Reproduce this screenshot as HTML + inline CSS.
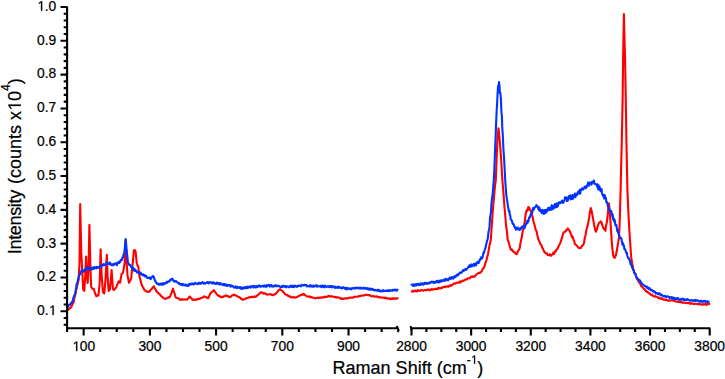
<!DOCTYPE html>
<html><head><meta charset="utf-8"><style>
html,body{margin:0;padding:0;background:#fff;}
svg{display:block;}
text{font-family:"Liberation Sans",sans-serif;fill:#000;stroke:#000;stroke-width:0.22px;}
.h{fill:none;stroke:none;}
.ones path{fill:#000;stroke:#000;stroke-width:0.22px;}
.c path{fill:none;stroke-width:2.1;stroke-linejoin:round;stroke-linecap:butt;}
</style></head><body>
<svg width="725" height="379" viewBox="0 0 725 379">
<rect width="725" height="379" fill="#fff"/>
<g class="c">
<path d="M67.2,310.6 L68.0,309.7 L68.8,309.3 L69.5,308.5 L70.3,308.0 L71.1,307.2 L71.9,305.7 L72.7,303.7 L73.5,302.5 L74.3,298.3 L75.1,295.0 L75.8,292.0 L76.6,288.3 L77.6,284.0 L78.6,280.3 L79.5,263.2 L80.2,204.0 L81.3,254.0 L82.2,269.8 L83.2,289.6 L84.3,290.9 L85.2,276.4 L86.1,256.6 L86.9,276.4 L87.6,283.0 L88.5,269.8 L89.4,224.9 L90.5,269.8 L91.2,287.0 L92.5,288.9 L93.8,288.9 L95.1,293.5 L96.4,296.2 L97.4,295.6 L98.4,295.5 L99.7,283.0 L100.6,249.2 L101.7,276.4 L103.0,292.2 L104.3,293.5 L105.0,285.5 L105.7,276.4 L106.8,254.7 L107.6,276.4 L108.6,290.9 L109.9,289.6 L110.8,279.8 L111.6,270.0 L112.9,288.3 L113.5,290.0 L114.2,289.7 L115.0,288.6 L115.7,288.1 L116.4,287.2 L117.1,284.8 L117.9,283.4 L118.6,281.3 L119.3,282.5 L120.1,282.7 L120.8,278.3 L121.6,273.9 L122.3,273.5 L123.1,272.4 L123.8,268.2 L124.6,263.5 L125.6,240.0 L126.5,260.6 L127.5,275.4 L128.2,278.5 L129.0,282.7 L129.7,281.6 L130.5,279.9 L131.2,278.3 L131.9,270.6 L132.7,263.5 L133.9,250.2 L134.8,250.1 L135.6,251.7 L136.8,263.5 L137.6,265.6 L138.3,266.5 L139.3,275.4 L140.0,278.3 L140.8,281.5 L141.5,284.2 L142.3,286.2 L143.2,287.5 L144.0,289.3 L144.8,290.4 L145.6,290.7 L146.4,291.5 L147.3,291.5 L148.1,292.0 L148.9,291.9 L149.8,291.2 L150.6,289.8 L151.4,289.6 L152.2,288.1 L153.1,287.1 L153.9,286.3 L154.7,288.5 L155.6,289.5 L156.4,291.2 L157.1,292.0 L157.8,292.4 L158.5,293.4 L159.3,293.9 L160.0,294.6 L160.7,295.6 L161.4,296.2 L162.2,296.9 L163.1,297.8 L163.9,298.2 L164.7,298.7 L165.4,298.9 L166.1,298.5 L166.8,298.4 L167.6,297.9 L168.3,297.2 L169.0,297.6 L169.7,297.0 L170.5,295.4 L171.3,293.3 L172.2,290.8 L173.0,288.7 L173.8,291.7 L174.7,293.9 L175.5,297.0 L176.3,297.8 L177.2,298.1 L178.0,298.3 L178.9,298.6 L179.7,299.5 L180.4,299.8 L181.1,299.9 L181.8,299.1 L182.6,299.8 L183.3,299.4 L184.0,299.2 L184.7,299.5 L185.6,299.5 L186.6,299.8 L187.4,299.2 L188.2,298.5 L189.1,296.9 L189.9,296.5 L190.7,297.7 L191.6,298.3 L192.4,299.8 L193.2,299.9 L193.9,299.5 L194.7,299.9 L195.4,299.9 L196.2,299.4 L196.9,299.7 L197.7,299.0 L198.4,298.7 L199.2,299.1 L199.9,298.9 L200.6,298.1 L201.3,297.9 L202.0,297.8 L202.7,297.6 L203.4,296.9 L204.1,296.4 L204.8,296.5 L205.6,297.2 L206.4,297.1 L207.3,298.1 L208.1,298.1 L208.9,296.8 L209.8,294.6 L210.6,293.1 L211.4,292.3 L212.2,291.7 L213.1,291.1 L213.9,290.2 L214.8,291.5 L215.6,292.6 L216.5,293.8 L217.3,294.8 L218.1,295.7 L218.9,295.8 L219.8,296.2 L220.6,297.0 L221.4,297.3 L222.1,296.8 L222.8,296.6 L223.5,297.0 L224.3,296.3 L225.0,296.1 L225.7,295.4 L226.4,295.6 L227.2,295.9 L228.1,296.5 L228.9,296.4 L229.7,297.3 L230.5,296.9 L231.3,296.3 L232.2,295.2 L233.0,295.2 L233.8,294.5 L234.6,294.9 L235.4,295.5 L236.3,295.6 L237.1,296.3 L237.9,296.5 L238.6,297.2 L239.3,297.0 L240.0,297.5 L240.8,298.5 L241.5,299.3 L242.2,299.1 L242.9,299.8 L243.6,299.5 L244.4,299.3 L245.1,298.8 L245.8,298.6 L246.6,298.2 L247.3,298.0 L248.0,297.9 L248.8,297.4 L249.5,297.3 L250.2,297.1 L251.0,297.4 L251.7,296.6 L252.5,297.0 L253.2,297.1 L254.0,296.6 L254.7,296.4 L255.5,296.9 L256.2,296.5 L256.9,295.6 L257.6,295.0 L258.3,294.6 L259.0,294.3 L259.7,293.1 L260.4,292.7 L261.1,292.3 L261.8,292.4 L262.6,293.1 L263.3,293.0 L264.0,293.6 L264.8,293.2 L265.5,293.6 L266.2,294.2 L267.0,294.6 L267.7,294.5 L268.4,294.5 L269.2,294.3 L269.9,294.2 L270.7,294.7 L271.4,294.4 L272.2,295.0 L272.9,295.1 L273.7,294.5 L274.4,294.8 L275.1,293.9 L275.8,293.7 L276.6,292.8 L277.3,292.2 L278.0,291.0 L278.8,290.1 L279.5,289.5 L280.2,289.0 L280.9,290.0 L281.6,290.2 L282.4,291.0 L283.1,291.8 L283.8,292.5 L284.6,293.3 L285.3,294.5 L286.0,294.8 L286.7,294.7 L287.5,294.9 L288.2,296.1 L288.9,296.3 L289.7,296.7 L290.4,296.4 L291.1,297.2 L291.9,297.4 L292.6,297.3 L293.4,297.0 L294.2,297.5 L295.0,297.6 L295.8,297.5 L296.6,297.3 L297.3,297.0 L298.1,296.4 L298.8,296.0 L299.5,295.6 L300.3,295.0 L301.0,295.2 L301.7,294.5 L302.5,294.7 L303.2,294.0 L303.9,293.9 L304.6,295.1 L305.3,295.3 L306.1,295.8 L306.8,296.2 L307.5,296.5 L308.2,296.5 L308.9,296.8 L309.7,296.4 L310.4,297.3 L311.1,296.9 L311.9,297.2 L312.6,297.7 L313.3,297.8 L314.1,297.8 L314.8,298.1 L315.6,298.4 L316.3,298.1 L317.1,297.7 L317.8,297.6 L318.6,298.1 L319.3,297.6 L320.1,297.9 L320.8,297.4 L321.6,297.2 L322.3,297.4 L323.1,297.3 L323.8,297.4 L324.5,296.6 L325.2,297.1 L326.0,297.0 L326.7,296.7 L327.4,296.6 L328.1,296.1 L328.8,295.7 L329.6,296.4 L330.3,296.7 L331.0,296.1 L331.8,296.4 L332.5,296.5 L333.2,296.8 L334.0,296.8 L334.7,297.0 L335.5,297.1 L336.2,297.6 L337.0,297.1 L337.7,297.3 L338.5,297.5 L339.2,297.7 L340.0,297.8 L340.7,298.8 L341.5,298.9 L342.2,298.3 L343.0,298.9 L343.8,298.8 L344.5,298.5 L345.3,298.4 L346.0,298.4 L346.8,298.5 L347.5,298.4 L348.3,298.1 L349.0,297.8 L349.8,297.8 L350.5,297.5 L351.3,297.8 L352.0,297.7 L352.8,297.7 L353.5,297.2 L354.3,296.8 L355.0,296.7 L355.8,296.8 L356.5,296.8 L357.3,296.8 L358.0,296.3 L358.8,296.5 L359.5,296.1 L360.2,296.1 L361.0,295.7 L361.7,295.5 L362.5,295.5 L363.2,295.6 L364.0,295.2 L364.7,295.3 L365.5,294.9 L366.2,294.8 L366.9,294.7 L367.7,295.1 L368.4,295.4 L369.1,295.0 L369.9,295.4 L370.6,295.6 L371.3,296.2 L372.1,296.4 L372.8,296.1 L373.6,296.1 L374.3,296.7 L375.1,296.7 L375.8,296.3 L376.6,296.6 L377.3,296.4 L378.1,297.2 L378.8,297.1 L379.6,297.4 L380.3,297.5 L381.1,297.3 L381.8,297.6 L382.6,297.8 L383.3,297.8 L384.1,297.5 L384.8,298.1 L385.6,297.7 L386.3,298.0 L387.1,298.7 L387.8,298.2 L388.6,298.4 L389.3,298.9 L390.1,298.5 L390.8,299.1 L391.6,298.4 L392.3,298.2 L393.1,298.9 L393.9,298.2 L394.6,298.7 L395.4,298.5 L396.1,298.6 L396.9,298.7 L397.6,298.2 L398.4,298.1" stroke="#ff0000" stroke-width="1.9"/>
<path d="M411.2,291.3 L411.9,291.7 L412.6,290.6 L413.3,291.5 L414.0,291.1 L414.7,291.3 L415.5,290.4 L416.2,291.3 L416.9,291.5 L417.6,290.2 L418.3,290.5 L419.0,290.8 L419.7,291.1 L420.4,290.3 L421.1,290.1 L421.8,290.2 L422.6,290.6 L423.3,290.8 L424.0,290.2 L424.7,290.1 L425.4,290.1 L426.1,290.2 L426.8,289.9 L427.5,289.9 L428.2,289.3 L428.9,289.8 L429.6,290.4 L430.3,289.5 L431.0,289.9 L431.8,288.9 L432.5,289.6 L433.2,289.6 L433.9,289.3 L434.6,289.0 L435.3,288.9 L436.0,289.0 L436.7,288.7 L437.4,289.1 L438.1,287.9 L438.8,287.7 L439.5,288.5 L440.2,288.6 L440.9,287.9 L441.6,287.6 L442.4,287.9 L443.1,287.0 L443.8,287.0 L444.5,286.7 L445.2,287.1 L445.9,286.6 L446.6,286.3 L447.3,286.6 L448.0,286.6 L448.7,286.8 L449.4,285.5 L450.1,285.9 L450.8,285.2 L451.5,285.6 L452.2,285.0 L452.9,284.2 L453.6,283.9 L454.3,283.3 L455.0,283.8 L455.7,283.4 L456.4,282.8 L457.1,282.8 L457.8,282.8 L458.5,282.2 L459.2,282.6 L459.9,281.3 L460.6,282.4 L461.3,281.2 L462.0,281.1 L462.7,280.6 L463.5,280.9 L464.2,280.6 L464.9,279.8 L465.6,279.4 L466.3,279.5 L467.0,279.4 L467.7,278.3 L468.4,278.2 L469.1,278.3 L469.8,278.4 L470.6,277.3 L471.3,276.6 L472.0,276.3 L472.7,276.9 L473.4,276.5 L474.2,276.8 L474.9,276.3 L475.6,275.4 L476.4,274.5 L477.2,273.9 L478.0,273.5 L478.8,272.9 L479.6,273.0 L480.4,272.5 L481.2,271.8 L481.9,271.0 L482.7,268.8 L483.5,268.4 L484.4,266.7 L485.3,263.1 L486.2,261.1 L487.2,257.0 L488.2,253.2 L489.5,245.3 L490.8,240.0 L491.6,228.2 L492.5,215.0 L493.4,203.5 L494.2,195.0 L495.0,185.9 L495.8,180.0 L496.7,157.0 L497.4,140.0 L498.5,128.2 L499.7,140.0 L501.0,157.0 L502.4,180.0 L503.6,195.0 L504.4,206.2 L505.2,215.0 L506.0,225.0 L506.9,231.7 L507.7,239.6 L508.6,241.8 L509.4,245.0 L510.2,247.8 L511.1,249.9 L511.8,249.3 L512.6,250.7 L513.3,251.6 L514.1,252.3 L514.8,252.3 L515.6,253.8 L516.3,254.2 L517.1,253.8 L518.0,250.9 L518.9,249.8 L519.7,248.2 L520.4,243.4 L521.1,240.0 L521.8,237.3 L522.5,232.0 L523.2,229.3 L524.0,225.4 L524.9,220.4 L525.7,213.9 L526.6,210.2 L527.4,210.8 L528.3,207.0 L529.2,207.7 L530.0,210.2 L530.9,210.4 L531.8,214.7 L532.6,216.6 L533.4,221.3 L534.3,224.2 L535.1,227.3 L535.9,230.4 L536.7,231.4 L537.4,235.5 L538.2,238.7 L539.0,240.5 L539.8,242.7 L540.6,244.4 L541.4,245.0 L542.2,247.6 L543.0,248.9 L543.8,250.9 L544.6,252.2 L545.4,252.9 L546.1,253.5 L546.9,253.4 L547.7,254.9 L548.5,255.2 L549.3,255.2 L550.1,254.2 L550.9,255.8 L551.7,254.9 L552.5,254.6 L553.3,252.7 L554.1,253.9 L554.9,251.4 L555.7,251.6 L556.5,249.7 L557.3,249.2 L558.0,247.5 L558.8,245.9 L559.6,244.3 L560.4,242.6 L561.2,240.1 L562.0,237.6 L562.7,235.1 L563.5,232.7 L564.3,231.9 L565.0,231.8 L565.7,231.2 L566.4,229.9 L567.1,229.8 L567.8,228.4 L568.6,229.5 L569.5,230.8 L570.4,232.6 L571.2,234.5 L571.9,237.2 L572.6,236.6 L573.4,239.6 L574.1,240.6 L574.8,243.7 L575.5,244.7 L576.4,245.2 L577.2,246.0 L578.0,247.1 L578.9,248.2 L579.8,247.9 L580.7,248.0 L581.6,246.9 L582.4,245.2 L583.2,245.2 L584.0,243.0 L584.7,238.5 L585.4,235.5 L586.1,231.6 L586.8,228.2 L587.5,225.9 L588.3,222.3 L589.1,217.7 L590.0,211.4 L590.8,208.0 L591.6,210.9 L592.5,215.7 L593.3,220.0 L594.1,224.7 L595.0,228.8 L595.8,231.8 L596.5,230.4 L597.3,227.9 L598.0,225.5 L598.9,223.0 L599.8,222.4 L600.7,221.3 L601.5,222.4 L602.4,225.6 L603.2,227.6 L603.9,228.9 L604.7,228.9 L605.4,230.8 L606.1,225.4 L606.8,222.5 L607.5,217.0 L608.9,203.3 L609.8,211.8 L610.6,223.4 L611.8,242.7 L612.5,249.7 L613.2,255.3 L614.0,257.4 L614.7,257.8 L615.8,255.5 L616.8,251.1 L617.5,246.4 L618.2,242.5 L618.9,238.0 L619.6,225.0 L620.6,190.0 L621.8,140.0 L622.6,100.0 L623.1,60.0 L623.4,40.0 L623.9,14.0 L624.5,40.0 L625.1,60.0 L625.8,100.0 L626.4,140.0 L627.4,190.0 L628.5,215.0 L629.2,227.8 L630.0,240.0 L631.2,257.4 L632.2,263.5 L633.3,269.0 L634.1,272.0 L634.9,273.6 L635.7,275.0 L636.5,277.5 L637.2,279.3 L637.9,279.9 L638.6,281.4 L639.3,282.8 L640.0,282.9 L640.7,284.9 L641.4,286.2 L642.2,286.9 L642.9,287.6 L643.7,288.5 L644.4,289.3 L645.2,289.9 L645.9,291.2 L646.6,291.7 L647.3,291.5 L648.0,292.5 L648.7,293.2 L649.4,293.3 L650.1,293.9 L650.9,294.9 L651.6,295.2 L652.3,294.7 L653.0,296.0 L653.7,296.2 L654.4,296.5 L655.1,296.1 L655.8,296.7 L656.5,296.8 L657.2,296.8 L657.9,297.6 L658.6,298.3 L659.3,297.7 L660.0,298.6 L660.7,298.6 L661.4,298.1 L662.1,299.2 L662.8,299.1 L663.5,299.7 L664.2,299.6 L664.9,299.6 L665.6,300.0 L666.3,299.6 L667.0,300.3 L667.7,300.6 L668.4,300.6 L669.1,300.2 L669.8,300.7 L670.6,300.5 L671.3,300.2 L672.0,300.2 L672.7,300.4 L673.4,300.6 L674.1,300.7 L674.8,301.2 L675.5,301.3 L676.2,301.6 L676.9,301.6 L677.6,301.6 L678.4,301.9 L679.1,301.7 L679.8,301.9 L680.5,302.4 L681.2,302.1 L681.9,302.0 L682.6,302.9 L683.3,302.8 L684.1,302.5 L684.8,302.6 L685.5,302.9 L686.2,303.0 L686.9,303.2 L687.6,302.9 L688.4,302.8 L689.1,303.1 L689.8,303.8 L690.5,303.2 L691.2,303.7 L691.9,303.5 L692.7,303.6 L693.4,303.7 L694.1,304.1 L694.8,304.0 L695.5,303.8 L696.3,303.7 L697.0,303.9 L697.7,304.0 L698.4,304.4 L699.1,304.0 L699.8,304.0 L700.6,304.5 L701.3,304.5 L702.0,304.6 L702.7,304.8 L703.5,304.1 L704.2,304.4 L704.9,304.4 L705.6,304.0 L706.4,304.9 L707.1,304.1 L707.8,304.0 L708.5,304.3 L709.3,304.0 L710.0,304.3" stroke="#ff0000" stroke-width="1.9"/>
<path d="M67.2,307.5 L67.7,307.1 L68.2,306.2 L68.8,305.4 L69.3,304.7 L69.8,304.9 L70.3,304.1 L70.8,303.2 L71.3,303.2 L71.7,302.1 L72.2,302.1 L72.7,300.9 L73.3,298.3 L74.0,296.2 L74.5,295.0 L75.1,294.6 L75.6,290.8 L76.1,288.3 L76.6,284.3 L77.0,283.4 L77.5,282.0 L78.1,279.4 L78.7,276.6 L79.3,275.1 L79.8,274.5 L80.3,274.1 L80.8,272.3 L81.3,271.1 L81.8,270.2 L82.3,270.4 L82.9,270.6 L83.4,270.9 L83.9,271.8 L84.4,270.0 L84.9,269.2 L85.5,269.7 L86.0,269.5 L86.5,267.8 L87.0,267.3 L87.5,269.2 L88.0,268.3 L88.5,268.5 L89.0,269.2 L89.5,269.4 L90.0,269.5 L90.5,267.4 L91.0,268.1 L91.5,268.7 L92.0,269.5 L92.5,268.5 L93.0,267.4 L93.4,267.8 L93.9,268.9 L94.4,267.1 L94.9,267.7 L95.3,267.4 L95.8,268.1 L96.3,268.5 L96.8,266.7 L97.2,267.9 L97.7,267.2 L98.2,267.6 L98.7,267.6 L99.1,266.8 L99.6,267.5 L100.1,266.0 L100.6,265.9 L101.1,265.3 L101.6,266.4 L102.0,265.5 L102.5,264.8 L103.0,265.2 L103.5,264.2 L104.0,265.4 L104.4,264.9 L104.9,265.0 L105.4,264.0 L105.9,264.1 L106.4,263.1 L106.9,264.3 L107.3,262.4 L107.8,263.3 L108.3,263.2 L108.8,264.0 L109.2,263.9 L109.7,262.6 L110.2,263.1 L110.6,264.7 L111.1,264.4 L111.5,265.1 L112.0,264.3 L112.5,265.2 L113.0,264.2 L113.5,265.2 L114.0,264.9 L114.4,263.9 L114.9,264.0 L115.4,263.3 L115.9,264.1 L116.4,264.3 L116.9,265.1 L117.3,262.8 L117.8,263.6 L118.2,262.3 L118.7,261.9 L119.2,263.0 L119.6,261.7 L120.1,262.1 L120.6,260.2 L121.1,259.7 L121.6,260.2 L122.1,259.3 L122.6,257.1 L123.1,257.6 L123.6,254.2 L124.2,253.5 L124.7,249.5 L125.2,243.4 L125.7,239.0 L126.2,244.8 L126.7,250.2 L127.3,255.9 L127.9,262.1 L128.4,263.5 L128.8,263.8 L129.3,265.0 L129.8,265.1 L130.3,265.0 L130.7,265.7 L131.2,267.2 L131.7,266.6 L132.2,268.8 L132.7,267.6 L133.2,267.8 L133.6,270.3 L134.1,269.0 L134.6,271.0 L135.1,269.6 L135.6,270.9 L136.1,271.1 L136.5,270.8 L137.0,272.3 L137.4,272.1 L137.9,272.4 L138.3,272.8 L138.8,273.3 L139.2,272.4 L139.7,273.2 L140.1,273.1 L140.6,272.6 L141.0,274.4 L141.5,273.9 L142.0,274.4 L142.4,275.1 L142.9,274.1 L143.3,275.1 L143.8,275.2 L144.3,276.1 L144.7,275.0 L145.2,275.9 L145.7,276.4 L146.1,275.9 L146.6,277.1 L147.0,277.8 L147.5,277.6 L148.0,277.5 L148.5,278.1 L149.0,278.1 L149.6,277.4 L150.1,277.8 L150.6,279.2 L151.1,278.3 L151.6,277.5 L152.1,277.2 L152.6,276.0 L153.1,276.3 L153.6,276.6 L154.0,277.3 L154.5,279.6 L154.9,280.1 L155.4,281.2 L155.8,282.2 L156.3,282.3 L156.7,283.8 L157.2,283.8 L157.7,283.9 L158.1,283.7 L158.6,284.6 L159.1,284.5 L159.5,284.6 L160.0,283.8 L160.5,284.3 L160.9,283.6 L161.4,284.7 L161.9,284.6 L162.4,283.4 L162.8,284.6 L163.3,283.2 L163.8,283.1 L164.2,284.2 L164.7,283.8 L165.2,283.1 L165.6,283.3 L166.1,283.2 L166.6,281.8 L167.0,282.8 L167.5,281.7 L168.0,281.7 L168.4,281.3 L168.9,281.7 L169.4,281.5 L169.9,280.3 L170.3,279.7 L170.8,279.8 L171.3,279.7 L171.7,278.8 L172.2,279.3 L172.7,278.9 L173.1,280.4 L173.6,280.5 L174.1,281.3 L174.5,281.6 L175.0,281.7 L175.5,281.0 L175.9,280.9 L176.4,281.5 L176.9,282.0 L177.4,282.4 L177.8,282.8 L178.3,282.7 L178.8,283.9 L179.2,283.1 L179.7,283.8 L180.2,283.9 L180.6,284.8 L181.1,284.8 L181.5,284.0 L182.0,284.1 L182.4,285.2 L182.9,283.9 L183.3,284.3 L183.8,285.2 L184.2,285.3 L184.7,285.4 L185.1,284.7 L185.6,284.5 L186.1,284.7 L186.5,285.6 L186.9,285.0 L187.4,285.9 L187.9,285.5 L188.3,284.9 L188.8,285.7 L189.2,283.9 L189.7,284.1 L190.1,283.7 L190.6,284.4 L191.1,284.1 L191.5,283.5 L192.0,284.4 L192.4,283.5 L192.9,283.8 L193.4,283.6 L193.8,284.5 L194.3,283.7 L194.8,283.4 L195.2,282.9 L195.7,283.5 L196.1,283.8 L196.6,283.5 L197.1,283.8 L197.5,284.2 L198.0,283.9 L198.4,282.9 L198.9,282.6 L199.3,283.7 L199.8,283.8 L200.2,283.2 L200.7,283.8 L201.2,283.2 L201.6,282.7 L202.1,282.4 L202.5,282.1 L203.0,283.2 L203.4,283.7 L203.9,283.6 L204.3,282.8 L204.8,283.1 L205.2,283.6 L205.7,283.3 L206.2,282.9 L206.6,282.5 L207.1,282.7 L207.5,282.0 L208.0,282.0 L208.4,282.9 L208.9,283.4 L209.3,282.5 L209.8,282.4 L210.3,282.3 L210.7,282.3 L211.2,282.5 L211.7,283.2 L212.1,282.6 L212.6,283.6 L213.0,282.2 L213.5,282.6 L214.0,283.0 L214.4,282.9 L214.9,283.7 L215.4,283.8 L215.8,284.0 L216.3,283.5 L216.8,282.5 L217.2,283.6 L217.7,283.6 L218.2,283.5 L218.6,283.2 L219.1,284.1 L219.5,284.5 L220.0,283.1 L220.5,284.2 L220.9,283.7 L221.4,284.0 L221.9,284.1 L222.3,284.9 L222.8,285.1 L223.2,284.6 L223.7,283.9 L224.2,285.3 L224.6,284.1 L225.1,284.5 L225.6,285.4 L226.0,284.6 L226.5,284.6 L226.9,285.9 L227.4,286.0 L227.9,285.0 L228.3,285.2 L228.8,285.1 L229.2,285.0 L229.7,285.7 L230.2,285.4 L230.6,286.8 L231.1,285.3 L231.6,285.7 L232.1,285.8 L232.5,285.7 L233.0,286.6 L233.5,287.1 L233.9,287.4 L234.4,287.1 L234.9,287.6 L235.4,286.3 L235.8,286.9 L236.3,287.4 L236.8,288.2 L237.2,286.8 L237.7,287.2 L238.2,287.6 L238.7,287.3 L239.1,287.8 L239.6,287.0 L240.1,287.4 L240.5,288.7 L241.0,287.4 L241.5,288.7 L242.0,287.5 L242.4,289.0 L242.9,288.2 L243.4,288.4 L243.8,288.3 L244.3,287.3 L244.8,287.1 L245.3,288.2 L245.7,287.1 L246.2,287.1 L246.7,288.1 L247.1,288.1 L247.6,286.6 L248.1,288.0 L248.6,287.2 L249.0,286.9 L249.5,287.0 L250.0,286.3 L250.4,286.7 L250.9,287.7 L251.3,286.5 L251.8,286.2 L252.2,286.2 L252.7,286.1 L253.1,286.5 L253.6,287.4 L254.0,285.9 L254.5,286.1 L255.0,287.3 L255.4,287.4 L255.9,287.3 L256.3,286.0 L256.8,286.2 L257.2,287.2 L257.7,286.3 L258.1,286.7 L258.6,285.9 L259.0,285.4 L259.5,286.2 L260.0,285.9 L260.4,286.6 L260.9,286.6 L261.4,286.2 L261.9,286.0 L262.3,286.1 L262.8,285.9 L263.3,286.1 L263.7,286.6 L264.2,285.4 L264.7,286.1 L265.2,286.7 L265.6,286.5 L266.1,285.3 L266.6,286.7 L267.0,286.4 L267.5,285.2 L268.0,285.4 L268.5,285.2 L268.9,284.9 L269.4,285.7 L269.8,286.6 L270.3,285.6 L270.8,286.4 L271.2,285.1 L271.6,285.0 L272.1,286.5 L272.6,286.4 L273.0,286.7 L273.4,286.2 L273.9,286.0 L274.4,286.4 L274.8,285.3 L275.2,286.1 L275.7,285.9 L276.1,285.4 L276.6,286.2 L277.1,285.8 L277.5,286.1 L277.9,285.9 L278.4,285.8 L278.9,285.9 L279.3,286.2 L279.8,286.4 L280.2,287.1 L280.7,287.0 L281.1,286.9 L281.6,286.9 L282.1,285.9 L282.5,287.1 L283.0,285.9 L283.5,285.7 L283.9,286.4 L284.4,286.8 L284.8,286.1 L285.3,286.7 L285.8,286.1 L286.2,287.3 L286.7,286.4 L287.1,286.4 L287.6,286.5 L288.1,286.5 L288.5,287.1 L289.0,287.3 L289.4,286.5 L289.9,286.3 L290.4,286.6 L290.8,285.6 L291.3,286.2 L291.8,287.0 L292.2,286.8 L292.7,285.6 L293.1,286.9 L293.6,286.1 L294.1,287.1 L294.5,286.0 L295.0,285.7 L295.4,286.3 L295.9,286.2 L296.4,286.8 L296.8,286.0 L297.3,286.7 L297.7,286.4 L298.2,285.7 L298.6,285.6 L299.1,285.9 L299.5,285.6 L300.0,285.5 L300.5,286.0 L300.9,286.3 L301.4,285.7 L301.8,284.9 L302.3,285.0 L302.7,285.2 L303.2,285.4 L303.7,285.6 L304.1,284.8 L304.6,284.8 L305.1,285.2 L305.5,285.2 L306.0,284.8 L306.4,285.7 L306.9,286.4 L307.4,285.7 L307.8,286.1 L308.3,286.3 L308.8,286.4 L309.2,286.5 L309.7,285.7 L310.2,286.2 L310.6,285.2 L311.1,286.6 L311.6,285.8 L312.0,286.0 L312.5,286.7 L312.9,285.7 L313.4,285.6 L313.9,286.7 L314.3,286.3 L314.8,286.2 L315.3,285.5 L315.7,285.4 L316.2,286.0 L316.6,285.4 L317.1,286.8 L317.6,285.7 L318.0,285.9 L318.5,286.1 L318.9,286.3 L319.4,286.2 L319.8,286.5 L320.3,286.6 L320.8,286.2 L321.2,285.6 L321.7,287.2 L322.1,286.7 L322.6,285.7 L323.1,286.3 L323.5,286.8 L324.0,287.3 L324.4,285.7 L324.9,285.6 L325.3,286.4 L325.8,286.3 L326.3,287.1 L326.7,287.0 L327.2,286.2 L327.6,286.3 L328.1,286.5 L328.6,286.7 L329.0,287.2 L329.5,286.1 L330.0,286.5 L330.4,286.0 L330.9,287.0 L331.3,285.9 L331.8,287.5 L332.3,286.9 L332.7,287.0 L333.2,286.2 L333.7,286.5 L334.1,286.9 L334.6,287.6 L335.1,287.1 L335.5,286.7 L336.0,287.9 L336.5,287.4 L336.9,287.2 L337.4,286.7 L337.8,286.9 L338.3,288.0 L338.8,286.7 L339.2,287.4 L339.7,287.4 L340.1,287.7 L340.6,287.3 L341.1,288.1 L341.5,288.4 L341.9,288.4 L342.4,288.2 L342.9,287.4 L343.3,287.2 L343.8,287.9 L344.2,287.8 L344.6,287.7 L345.1,288.9 L345.6,287.9 L346.0,289.0 L346.4,289.2 L346.9,287.9 L347.4,289.3 L347.8,288.5 L348.2,288.3 L348.7,288.3 L349.2,288.2 L349.6,289.0 L350.1,288.9 L350.5,288.7 L351.0,289.4 L351.5,289.3 L352.0,288.0 L352.4,288.5 L352.9,288.4 L353.4,288.0 L353.8,288.1 L354.3,288.0 L354.8,288.7 L355.3,288.0 L355.7,287.6 L356.2,288.2 L356.7,287.7 L357.1,288.1 L357.6,288.3 L358.0,287.8 L358.5,288.5 L358.9,287.7 L359.4,288.5 L359.8,288.4 L360.3,287.7 L360.7,288.6 L361.2,288.0 L361.7,288.3 L362.1,288.4 L362.6,288.4 L363.0,288.1 L363.5,287.5 L363.9,288.7 L364.4,288.8 L364.8,288.2 L365.3,288.3 L365.7,287.8 L366.2,288.2 L366.6,289.0 L367.1,288.7 L367.6,288.0 L368.0,289.1 L368.4,289.5 L368.9,288.5 L369.4,289.7 L369.8,288.9 L370.2,288.5 L370.7,289.5 L371.1,288.9 L371.6,289.7 L372.1,289.5 L372.5,288.8 L372.9,289.6 L373.4,290.2 L373.9,289.7 L374.3,289.9 L374.8,290.5 L375.2,289.9 L375.7,290.1 L376.1,290.2 L376.6,290.4 L377.0,290.8 L377.5,289.9 L377.9,289.7 L378.4,290.8 L378.9,290.6 L379.3,290.2 L379.8,291.2 L380.2,291.2 L380.7,290.7 L381.2,291.5 L381.6,291.3 L382.1,291.2 L382.6,290.5 L383.0,290.1 L383.5,291.2 L383.9,291.3 L384.4,291.0 L384.9,290.7 L385.3,290.9 L385.8,291.0 L386.3,290.5 L386.8,291.2 L387.2,291.0 L387.7,290.7 L388.2,290.2 L388.6,290.9 L389.1,290.5 L389.6,291.1 L390.1,290.2 L390.5,290.6 L391.0,290.7 L391.5,290.2 L391.9,290.4 L392.4,290.7 L392.9,289.8 L393.3,289.7 L393.8,290.3 L394.2,289.8 L394.7,290.3 L395.2,289.7 L395.6,289.5 L396.1,290.1 L396.5,290.7 L397.0,290.6 L397.5,289.9 L397.9,289.7 L398.4,289.8" stroke="#0033ff" />
<path d="M411.2,285.4 L411.7,284.5 L412.1,284.8 L412.6,284.8 L413.1,286.0 L413.5,284.3 L414.0,285.9 L414.5,284.9 L414.9,284.7 L415.4,284.3 L415.9,285.7 L416.3,284.0 L416.8,284.8 L417.2,284.6 L417.7,283.9 L418.2,283.9 L418.6,285.3 L419.1,284.9 L419.6,284.7 L420.0,285.0 L420.5,283.3 L421.0,284.4 L421.4,284.5 L421.9,283.9 L422.4,283.3 L422.8,283.7 L423.3,284.7 L423.7,283.3 L424.2,284.1 L424.7,282.8 L425.1,283.8 L425.6,282.9 L426.0,283.3 L426.5,283.0 L427.0,284.0 L427.4,283.6 L427.9,283.1 L428.4,283.4 L428.8,282.8 L429.3,283.5 L429.7,282.3 L430.2,282.8 L430.7,282.8 L431.1,282.4 L431.6,281.6 L432.0,281.8 L432.5,282.4 L433.0,282.6 L433.4,281.6 L433.9,282.7 L434.3,282.1 L434.8,283.0 L435.2,282.7 L435.7,282.4 L436.2,281.5 L436.6,280.8 L437.1,281.8 L437.5,282.1 L438.0,282.4 L438.4,280.8 L438.9,280.6 L439.3,282.3 L439.8,281.7 L440.3,281.1 L440.7,281.6 L441.2,280.2 L441.6,281.0 L442.1,281.2 L442.5,281.0 L443.0,280.7 L443.5,279.8 L443.9,279.6 L444.4,280.6 L444.8,281.0 L445.3,279.2 L445.8,278.8 L446.2,278.8 L446.7,280.2 L447.1,279.2 L447.6,279.2 L448.1,280.3 L448.5,279.3 L449.0,278.4 L449.5,279.2 L449.9,277.5 L450.4,278.0 L450.8,278.8 L451.3,277.5 L451.8,277.0 L452.2,278.0 L452.7,277.4 L453.1,278.7 L453.6,277.5 L454.1,276.3 L454.5,277.6 L455.0,276.4 L455.4,277.0 L455.9,275.9 L456.4,276.1 L456.8,275.0 L457.3,274.5 L457.7,274.7 L458.2,275.3 L458.6,273.9 L459.1,273.3 L459.6,273.5 L460.0,272.4 L460.5,272.6 L460.9,272.9 L461.4,272.6 L461.9,272.4 L462.3,271.4 L462.8,270.4 L463.2,270.1 L463.7,271.0 L464.2,270.2 L464.6,269.5 L465.1,270.0 L465.6,268.9 L466.1,269.8 L466.5,269.0 L467.0,268.8 L467.5,268.6 L467.9,267.6 L468.4,267.0 L468.9,266.3 L469.4,265.3 L469.8,266.9 L470.3,265.7 L470.8,265.6 L471.3,264.4 L471.7,266.5 L472.2,265.4 L472.7,265.4 L473.2,264.8 L473.7,263.9 L474.2,266.1 L474.6,263.7 L475.1,264.2 L475.6,264.4 L476.1,265.3 L476.6,262.5 L477.1,263.2 L477.6,262.7 L478.1,261.6 L478.6,263.1 L479.1,261.3 L479.6,261.1 L480.1,259.0 L480.5,259.5 L481.0,257.4 L481.5,258.7 L482.0,258.4 L482.4,257.8 L482.9,255.8 L483.4,252.8 L483.9,253.2 L484.5,250.4 L485.0,249.4 L485.5,247.9 L486.0,245.3 L486.5,243.3 L487.0,240.7 L487.5,240.0 L488.0,237.1 L488.5,231.8 L489.0,230.0 L489.5,226.9 L490.0,218.1 L490.5,215.0 L490.9,212.6 L491.4,204.6 L491.9,199.5 L492.3,197.0 L492.8,192.6 L493.3,185.8 L493.8,180.0 L494.3,170.1 L494.8,157.0 L495.7,135.0 L496.1,123.6 L496.6,112.0 L497.1,103.6 L497.6,93.0 L498.1,85.8 L498.5,87.2 L499.0,82.0 L499.5,85.8 L499.9,93.3 L500.4,93.0 L500.9,98.5 L501.4,112.0 L501.9,116.4 L502.3,128.6 L502.8,135.0 L503.4,148.8 L504.0,157.0 L504.6,168.0 L505.2,180.0 L505.8,188.6 L506.3,195.0 L506.9,199.1 L507.4,202.1 L508.0,206.5 L508.4,208.5 L508.9,211.2 L509.4,210.8 L509.8,215.0 L510.3,215.8 L510.7,219.3 L511.2,220.0 L511.8,220.4 L512.3,222.7 L512.9,224.2 L513.4,223.9 L513.9,225.0 L514.4,226.8 L514.9,227.9 L515.4,227.6 L515.9,229.8 L516.3,228.4 L516.8,227.7 L517.2,229.3 L517.7,228.7 L518.2,227.7 L518.7,228.5 L519.2,229.9 L519.7,229.7 L520.3,229.7 L520.8,227.8 L521.4,228.4 L521.9,226.9 L522.4,226.3 L522.9,226.4 L523.4,227.4 L523.9,226.1 L524.4,228.4 L524.9,226.6 L525.4,226.0 L525.8,224.3 L526.3,223.8 L526.8,221.3 L527.2,223.3 L527.7,222.6 L528.1,220.1 L528.6,220.8 L529.1,218.0 L529.5,217.0 L530.0,217.3 L530.5,214.9 L531.0,213.5 L531.5,214.1 L531.9,213.0 L532.4,212.2 L532.9,208.1 L533.4,208.7 L533.9,209.5 L534.4,207.9 L534.9,207.0 L535.4,207.2 L535.9,206.5 L536.4,205.1 L536.9,206.1 L537.4,206.1 L537.9,207.8 L538.4,208.6 L538.8,210.0 L539.3,207.2 L539.8,210.9 L540.3,209.6 L540.8,211.4 L541.3,211.5 L541.8,213.2 L542.4,209.8 L542.9,213.2 L543.4,212.4 L543.9,213.9 L544.4,210.1 L544.8,211.9 L545.3,213.1 L545.8,209.9 L546.3,212.1 L546.7,212.0 L547.2,209.5 L547.7,209.5 L548.2,207.7 L548.6,207.7 L549.1,210.3 L549.5,208.2 L550.0,207.5 L550.4,207.9 L550.9,209.9 L551.4,206.5 L551.8,205.2 L552.3,209.3 L552.7,206.1 L553.2,206.2 L553.6,208.7 L554.1,206.3 L554.6,205.0 L555.0,203.9 L555.5,207.4 L556.0,204.1 L556.5,203.7 L557.0,206.9 L557.4,203.3 L557.9,206.2 L558.4,203.3 L558.8,202.9 L559.3,202.2 L559.8,203.3 L560.3,203.1 L560.7,202.9 L561.2,201.7 L561.7,201.9 L562.1,200.5 L562.6,202.8 L563.1,202.9 L563.6,201.6 L564.0,201.6 L564.5,199.7 L565.0,197.4 L565.5,198.1 L565.9,197.7 L566.4,197.3 L566.9,201.1 L567.4,200.6 L567.9,200.5 L568.3,198.5 L568.8,196.2 L569.3,197.9 L569.8,197.4 L570.2,195.3 L570.7,199.4 L571.2,196.0 L571.6,195.9 L572.1,199.0 L572.6,195.1 L573.1,198.6 L573.5,195.3 L574.0,196.1 L574.5,196.6 L575.0,193.5 L575.4,197.2 L575.9,194.4 L576.4,193.9 L576.9,195.1 L577.4,194.5 L577.8,192.5 L578.3,191.6 L578.8,193.2 L579.3,193.2 L579.7,189.9 L580.2,193.8 L580.7,190.7 L581.1,189.4 L581.6,189.8 L582.1,188.3 L582.6,188.9 L583.0,189.6 L583.5,189.0 L584.0,188.1 L584.4,187.2 L584.9,186.5 L585.3,187.1 L585.8,188.2 L586.2,186.0 L586.6,187.3 L587.1,185.4 L587.6,184.9 L588.1,182.6 L588.6,182.5 L589.1,185.8 L589.6,183.4 L590.1,182.5 L590.6,182.8 L591.1,182.8 L591.6,184.6 L592.0,181.9 L592.5,181.8 L593.0,182.5 L593.5,182.1 L593.9,180.4 L594.4,183.6 L594.8,183.5 L595.2,183.9 L595.7,184.0 L596.1,184.4 L596.6,184.8 L597.1,186.6 L597.6,184.3 L598.1,189.2 L598.6,185.2 L599.1,189.7 L599.6,186.7 L600.1,189.0 L600.6,191.3 L601.0,189.2 L601.5,189.0 L601.9,192.2 L602.4,194.4 L602.8,195.2 L603.2,196.1 L603.7,194.9 L604.2,198.5 L604.7,195.1 L605.2,197.9 L605.8,197.8 L606.3,202.1 L606.8,201.9 L607.3,203.3 L607.8,205.6 L608.3,207.1 L608.8,209.2 L609.3,208.9 L609.8,210.9 L610.3,210.6 L610.8,211.6 L611.3,211.0 L611.7,215.8 L612.2,213.6 L612.7,214.9 L613.1,219.3 L613.6,218.3 L614.0,221.1 L614.5,219.8 L615.0,221.8 L615.4,225.1 L615.9,225.5 L616.4,225.0 L616.8,228.1 L617.3,231.1 L617.8,229.6 L618.2,232.7 L618.7,234.2 L619.2,235.0 L619.7,236.8 L620.1,237.8 L620.6,238.4 L621.1,237.9 L621.6,239.7 L622.0,242.1 L622.5,244.7 L623.0,243.3 L623.5,245.8 L623.9,245.4 L624.4,249.0 L624.9,249.0 L625.4,250.0 L625.8,251.4 L626.3,253.0 L626.8,252.6 L627.2,255.5 L627.7,256.9 L628.2,258.2 L628.6,257.7 L629.1,259.5 L629.6,259.9 L630.0,260.9 L630.5,264.1 L631.0,264.0 L631.4,265.1 L631.9,266.6 L632.4,268.3 L632.8,268.5 L633.3,270.1 L633.8,270.6 L634.2,272.6 L634.7,273.6 L635.2,273.3 L635.6,273.8 L636.1,276.7 L636.6,277.2 L637.0,277.8 L637.5,278.5 L638.0,278.8 L638.5,280.6 L638.9,280.0 L639.4,280.0 L639.9,280.3 L640.4,281.4 L640.9,282.5 L641.4,282.5 L641.8,284.3 L642.3,284.2 L642.8,284.4 L643.3,284.6 L643.8,285.4 L644.2,285.6 L644.7,285.9 L645.2,286.0 L645.7,286.4 L646.2,286.7 L646.7,287.7 L647.1,286.7 L647.6,288.2 L648.1,288.0 L648.6,287.9 L649.1,289.3 L649.6,288.2 L650.0,289.3 L650.5,289.5 L651.0,290.3 L651.5,289.7 L652.0,290.2 L652.5,290.2 L652.9,291.3 L653.4,291.7 L653.9,291.0 L654.4,292.2 L654.9,291.8 L655.3,292.0 L655.8,293.6 L656.2,292.9 L656.7,293.2 L657.1,293.0 L657.6,293.8 L658.1,294.2 L658.5,294.2 L659.0,293.2 L659.4,294.2 L659.9,294.4 L660.3,293.9 L660.8,295.3 L661.2,294.7 L661.7,294.8 L662.2,295.6 L662.6,295.7 L663.1,295.7 L663.5,296.5 L664.0,296.2 L664.4,296.1 L664.9,296.5 L665.4,295.9 L665.8,296.8 L666.3,296.6 L666.7,296.9 L667.2,296.7 L667.7,296.3 L668.1,296.4 L668.6,296.7 L669.0,296.7 L669.5,298.0 L670.0,297.6 L670.4,297.2 L670.9,298.0 L671.4,298.0 L671.8,297.2 L672.3,298.4 L672.7,297.6 L673.2,298.9 L673.7,297.7 L674.1,298.0 L674.6,298.0 L675.0,299.1 L675.5,298.6 L676.0,299.1 L676.4,298.8 L676.9,298.2 L677.3,298.7 L677.8,299.1 L678.2,298.2 L678.7,299.6 L679.2,299.5 L679.6,299.7 L680.1,299.3 L680.5,299.3 L681.0,299.9 L681.4,298.8 L681.9,298.9 L682.3,298.7 L682.8,298.8 L683.3,299.8 L683.7,298.8 L684.2,299.8 L684.6,299.3 L685.1,300.1 L685.5,300.0 L686.0,299.6 L686.5,299.9 L686.9,300.2 L687.4,299.0 L687.8,299.4 L688.3,299.6 L688.8,299.8 L689.2,300.2 L689.7,300.6 L690.1,300.4 L690.6,300.7 L691.1,300.4 L691.5,300.0 L692.0,300.2 L692.5,300.6 L692.9,300.8 L693.4,300.2 L693.8,300.2 L694.3,300.6 L694.8,300.1 L695.2,301.1 L695.7,299.9 L696.1,300.9 L696.6,300.7 L697.1,300.7 L697.5,300.3 L698.0,300.9 L698.5,300.8 L698.9,301.6 L699.4,301.5 L699.9,301.1 L700.3,301.5 L700.8,301.6 L701.2,300.6 L701.7,301.6 L702.2,301.6 L702.6,301.9 L703.1,301.6 L703.6,301.1 L704.0,300.8 L704.5,301.5 L705.0,300.9 L705.4,301.8 L705.9,301.5 L706.4,301.9 L706.8,301.3 L707.3,301.2 L707.7,302.1 L708.2,301.8 L708.7,301.5 L709.1,301.8 L709.6,301.7" stroke="#0033ff" />
<path d="M67.1,6.4 V329.0 M60.5,7.00 H67.1 M63.7,13.76 H67.1 M63.7,20.52 H67.1 M63.7,27.29 H67.1 M63.7,34.05 H67.1 M60.5,40.81 H67.1 M63.7,47.57 H67.1 M63.7,54.33 H67.1 M63.7,61.10 H67.1 M63.7,67.86 H67.1 M60.5,74.62 H67.1 M63.7,81.38 H67.1 M63.7,88.14 H67.1 M63.7,94.91 H67.1 M63.7,101.67 H67.1 M60.5,108.43 H67.1 M63.7,115.19 H67.1 M63.7,121.95 H67.1 M63.7,128.72 H67.1 M63.7,135.48 H67.1 M60.5,142.24 H67.1 M63.7,149.00 H67.1 M63.7,155.76 H67.1 M63.7,162.53 H67.1 M63.7,169.29 H67.1 M60.5,176.05 H67.1 M63.7,182.81 H67.1 M63.7,189.57 H67.1 M63.7,196.34 H67.1 M63.7,203.10 H67.1 M60.5,209.86 H67.1 M63.7,216.62 H67.1 M63.7,223.38 H67.1 M63.7,230.15 H67.1 M63.7,236.91 H67.1 M60.5,243.67 H67.1 M63.7,250.43 H67.1 M63.7,257.19 H67.1 M63.7,263.96 H67.1 M63.7,270.72 H67.1 M60.5,277.48 H67.1 M63.7,284.24 H67.1 M63.7,291.00 H67.1 M63.7,297.77 H67.1 M63.7,304.53 H67.1 M60.5,311.29 H67.1 M63.7,318.05 H67.1 M63.7,324.81 H67.1 M66.3,328.2 H398.4 M67.10,328.2 V332.1 M83.66,328.2 V335.6 M100.21,328.2 V332.1 M116.76,328.2 V332.1 M133.32,328.2 V332.1 M149.88,328.2 V335.6 M166.43,328.2 V332.1 M182.99,328.2 V332.1 M199.54,328.2 V332.1 M216.09,328.2 V335.6 M232.65,328.2 V332.1 M249.20,328.2 V332.1 M265.76,328.2 V332.1 M282.31,328.2 V335.6 M298.87,328.2 V332.1 M315.43,328.2 V332.1 M331.98,328.2 V332.1 M348.53,328.2 V335.6 M365.09,328.2 V332.1 M381.64,328.2 V332.1 M411.4,328.2 H710.3 M426.41,328.2 V332.1 M441.32,328.2 V332.1 M456.23,328.2 V332.1 M471.14,328.2 V335.6 M486.05,328.2 V332.1 M500.96,328.2 V332.1 M515.87,328.2 V332.1 M530.78,328.2 V335.6 M545.69,328.2 V332.1 M560.60,328.2 V332.1 M575.51,328.2 V332.1 M590.42,328.2 V335.6 M605.33,328.2 V332.1 M620.24,328.2 V332.1 M635.15,328.2 V332.1 M650.06,328.2 V335.6 M664.97,328.2 V332.1 M679.88,328.2 V332.1 M694.79,328.2 V332.1 M709.70,328.2 V335.6 M411.50,328.2 V335.6" stroke="#000" stroke-width="1.3" fill="none" stroke-linecap="butt"/>
<path d="M396.6,326.0 L398.6,330.2 L397.6,332.0 M410.5,326.2 L411.7,329.6" stroke="#000" stroke-width="1.15" fill="none"/>
</g>
<g font-size="13.8">
<text id="ty1" x="56.3" y="315.1" text-anchor="end">0.<tspan class="h">1</tspan></text>
<text x="56.3" y="281.3" text-anchor="end">0.2</text>
<text x="56.3" y="247.5" text-anchor="end">0.3</text>
<text x="56.3" y="213.7" text-anchor="end">0.4</text>
<text x="56.3" y="179.9" text-anchor="end">0.5</text>
<text x="56.3" y="146.0" text-anchor="end">0.6</text>
<text x="56.3" y="112.2" text-anchor="end">0.7</text>
<text x="56.3" y="78.4" text-anchor="end">0.8</text>
<text x="56.3" y="44.6" text-anchor="end">0.9</text>
<text id="ty10" x="56.3" y="10.8" text-anchor="end"><tspan class="h">1</tspan>.0</text>
<text id="tx100" x="83.7" y="351.1" text-anchor="middle"><tspan class="h">1</tspan>00</text>
<text x="149.9" y="351.1" text-anchor="middle">300</text>
<text x="216.1" y="351.1" text-anchor="middle">500</text>
<text x="282.3" y="351.1" text-anchor="middle">700</text>
<text x="348.5" y="351.1" text-anchor="middle">900</text>
<text x="411.5" y="351.1" text-anchor="middle">2800</text>
<text x="471.1" y="351.1" text-anchor="middle">3000</text>
<text x="530.8" y="351.1" text-anchor="middle">3200</text>
<text x="590.4" y="351.1" text-anchor="middle">3400</text>
<text x="650.1" y="351.1" text-anchor="middle">3600</text>
<text x="709.7" y="351.1" text-anchor="middle">3800</text>
</g>
<text id="xt" x="332.6" y="374" font-size="18">Raman Shift (cm<tspan dy="-10.2" font-size="12">-<tspan class="h">1</tspan></tspan><tspan dy="10.2">)</tspan></text>
<text id="yt" transform="translate(20.8,254.2) rotate(-90)" x="0" y="0" font-size="18"><tspan letter-spacing="-0.33">Intensity</tspan> <tspan dx="1.2">(counts</tspan> <tspan dx="-0.2">x<tspan class="h">1</tspan>0</tspan><tspan dy="-10.6" font-size="12">4</tspan><tspan dy="10.6">)</tspan></text>
<g class="ones">
<path d="M52.50,315.10 L52.50,306.76 L50.35,308.29 L50.35,307.15 L52.60,305.61 L53.72,305.61 L53.72,315.10Z"/>
<path d="M40.98,10.80 L40.98,2.46 L38.84,3.99 L38.84,2.85 L41.08,1.31 L42.20,1.31 L42.20,10.80Z"/>
<path d="M76.06,351.10 L76.06,342.76 L73.92,344.29 L73.92,343.15 L76.16,341.61 L77.28,341.61 L77.28,351.10Z"/>
<path d="M474.02,363.80 L474.02,356.55 L472.16,357.88 L472.16,356.89 L474.11,355.54 L475.09,355.54 L475.09,363.80Z"/>
<g transform="translate(20.8,254.2) rotate(-90)"><path d="M148.21,0.00 L148.21,-10.87 L145.41,-8.88 L145.41,-10.37 L148.34,-12.38 L149.80,-12.38 L149.80,0.00Z"/></g>
</g>
</svg>
</body></html>
